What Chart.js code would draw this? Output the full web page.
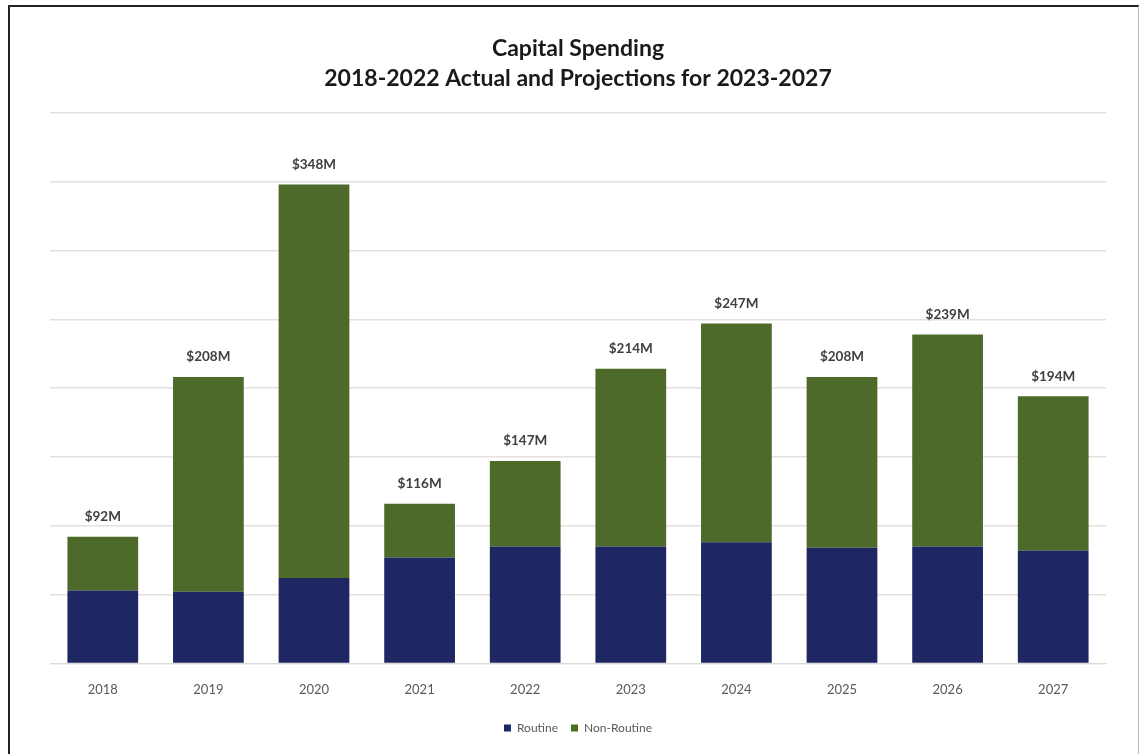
<!DOCTYPE html>
<html>
<head>
<meta charset="utf-8">
<script src="https://cdn.jsdelivr.net/npm/chart.js@4"></script>
<style>
  html, body { margin:0; padding:0; background:#fff; }
  #wrap { position:relative; width:1140px; height:754px; }
  #frame { position:absolute; left:8px; top:5px; width:1128px; height:760px;
           border-left:2px solid #222; border-top:2px solid #222; border-right:1px solid #bbb; pointer-events:none; }
  canvas { position:absolute; left:0; top:0; }
</style>
</head>
<body>
<div id="wrap">
  <canvas id="c" width="1140" height="754"></canvas>
  <div id="frame"></div>
</div>
<script>
const categories = ['2018','2019','2020','2021','2022','2023','2024','2025','2026','2027'];
const totals     = [92, 208, 348, 116, 147, 214, 247, 208, 239, 194];
const routine    = [53, 52, 62, 77, 85, 85, 88, 84, 85, 82];
const nonRoutine = [39, 156, 286, 39, 62, 129, 159, 124, 154, 112];
const totalLabels = ['$92M','$208M','$348M','$116M','$147M','$214M','$247M','$208M','$239M','$194M'];
const titleLines = ['Capital Spending', '2018-2022 Actual and Projections for 2023-2027'];

const FONT = 'Lato, "Open Sans", sans-serif';

const totalLabelPlugin = {
  id: 'totalLabels',
  afterDatasetsDraw(chart) {
    const ctx = chart.ctx;
    const y = chart.scales.y;
    const x = chart.scales.x;
    ctx.save();
    ctx.font = 'bold 13.5px ' + FONT;
    ctx.fillStyle = '#404040';
    ctx.textAlign = 'center';
    ctx.textBaseline = 'middle';
    totals.forEach((t, i) => {
      ctx.fillText(totalLabels[i], x.getPixelForValue(i), y.getPixelForValue(t) - 20);
    });
    ctx.restore();
  }
};

new Chart(document.getElementById('c'), {
  type: 'bar',
  data: {
    labels: categories,
    datasets: [
      { label: 'Routine', data: routine, backgroundColor: '#1f2762', barPercentage: 0.67, categoryPercentage: 1.0 },
      { label: 'Non-Routine', data: nonRoutine, backgroundColor: '#4e6a2b', barPercentage: 0.67, categoryPercentage: 1.0 }
    ]
  },
  options: {
    responsive: false,
    animation: false,
    devicePixelRatio: 1,
    layout: { padding: { left: 50, right: 34, top: 10, bottom: 10 } },
    plugins: {
      title: {
        display: true,
        text: titleLines,
        color: '#1a1a1a',
        font: { family: FONT, size: 23, weight: 'bold', lineHeight: 1.3 },
        padding: { top: 24, bottom: 19 }
      },
      legend: {
        display: true,
        position: 'bottom',
        labels: {
          color: '#595959',
          font: { family: FONT, size: 12 },
          boxWidth: 7, boxHeight: 7,
          padding: 13
        }
      },
      tooltip: { enabled: false }
    },
    scales: {
      x: {
        stacked: true,
        grid: { display: false },
        border: { display: true, color: '#d9d9d9' },
        ticks: { color: '#595959', font: { family: FONT, size: 13 }, padding: 11 }
      },
      y: {
        stacked: true,
        min: 0, max: 400,
        ticks: { display: false, stepSize: 50 },
        grid: { color: '#e4e0dd', lineWidth: 1.5, drawTicks: false },
        border: { display: false }
      }
    }
  },
  plugins: [totalLabelPlugin]
});
</script>
</body>
</html>
